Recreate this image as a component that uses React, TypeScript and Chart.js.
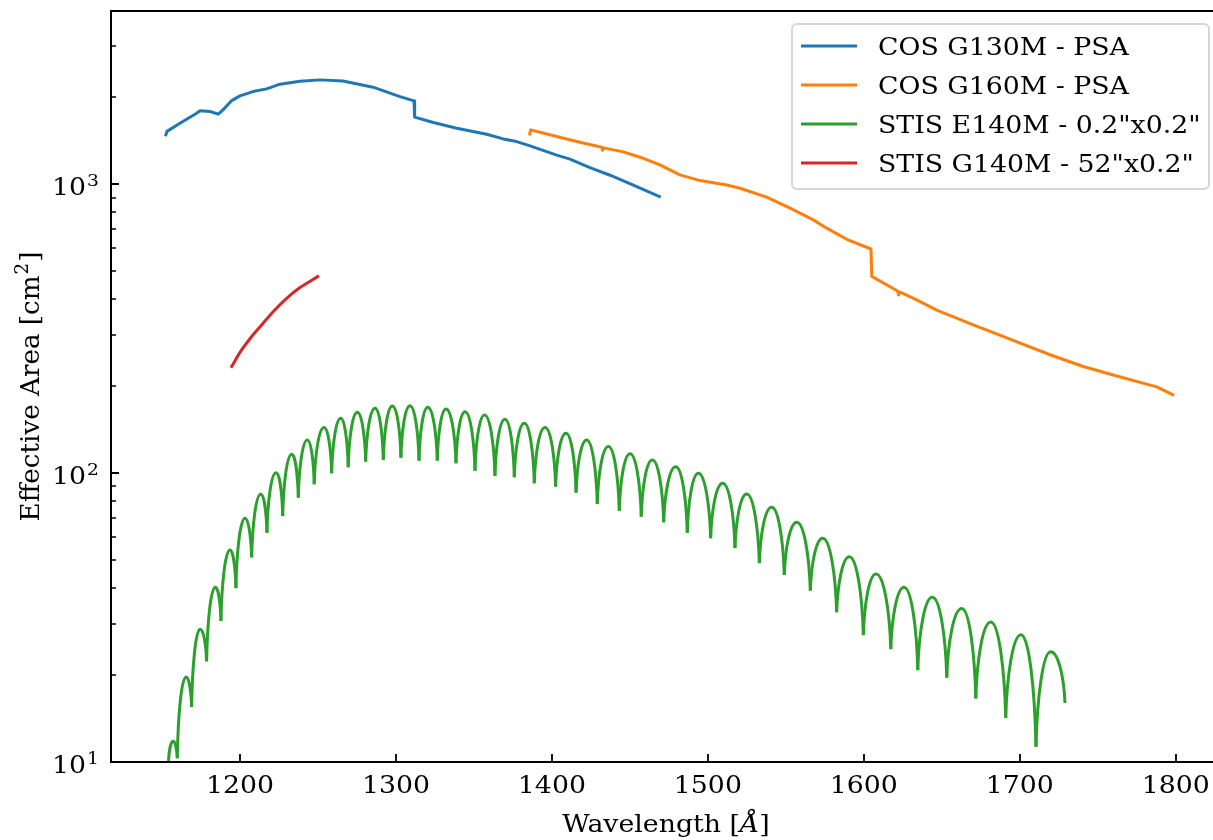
import React, { useEffect, useRef } from "react";
import { Chart, registerables } from "chart.js";

Chart.register(...registerables);

// ---------------- data ----------------
const seriesLabels = [
  "COS G130M - PSA",
  "COS G160M - PSA",
  'STIS E140M - 0.2"x0.2"',
  'STIS G140M - 52"x0.2"',
];
const seriesColors = ["#1f77b4", "#ff7f0e", "#2ca02c", "#d62728"];

const g130mWave = [1152.5, 1153.2, 1161.5, 1172.2, 1174.4, 1180.8, 1186.1, 1189.1, 1194.7, 1200.0, 1208.3, 1217.1, 1225.6, 1238.5, 1251.3, 1266.0, 1285.3, 1302.6, 1311.6, 1312.0, 1324.0, 1339.0, 1358.2, 1368.8, 1377.4, 1386.0, 1403.1, 1411.6, 1424.4, 1437.3, 1452.2, 1468.9];
const g130mArea = [1483, 1525, 1628, 1763, 1796, 1786, 1749, 1810, 1949, 2024, 2094, 2140, 2222, 2275, 2299, 2280, 2169, 2012, 1945, 1708, 1636, 1564, 1491, 1436, 1406, 1358, 1262, 1222, 1142, 1075, 993, 907];

const g160mWave = [1385.8, 1386.4, 1403.1, 1415.9, 1431.9, 1432.4, 1433.1, 1445.8, 1456.5, 1469.3, 1482.1, 1495.0, 1512.1, 1520.6, 1537.7, 1552.7, 1567.6, 1576.2, 1589.0, 1604.6, 1605.1, 1621.6, 1622.3, 1622.9, 1633.9, 1646.7, 1670.2, 1693.7, 1719.4, 1740.7, 1762.2, 1787.8, 1798.1];
const g160mArea = [1494, 1543, 1463, 1406, 1344, 1311, 1337, 1295, 1241, 1167, 1078, 1030, 995, 969, 903, 827, 753, 705, 645, 597, 480, 427, 414, 424, 398, 367, 326, 291, 257, 234, 217, 199, 187];

// E140M echelle orders: cusps (troughs) between orders and blaze peaks
const e140mTroughWave = [1154.0, 1159.8, 1169.0, 1178.6, 1187.8, 1197.4, 1207.5, 1217.3, 1227.4, 1237.4, 1247.6, 1258.8, 1269.4, 1280.6, 1291.9, 1303.2, 1314.8, 1326.5, 1338.5, 1350.7, 1363.5, 1375.9, 1388.7, 1402.4, 1415.5, 1429.1, 1443.2, 1457.3, 1471.7, 1486.8, 1501.8, 1517.4, 1533.0, 1549.0, 1565.7, 1582.6, 1599.7, 1617.3, 1634.6, 1653.2, 1671.8, 1691.0, 1710.4, 1729.0];
const e140mTroughArea = [9.6, 10.3, 15.5, 22.3, 30.8, 40.0, 51.1, 62.2, 71.1, 82.3, 91.5, 99.9, 104.8, 109.6, 111.1, 113.2, 110.5, 110.5, 108.2, 102.0, 97.8, 96.8, 92.3, 89.8, 85.6, 78.2, 74.1, 70.7, 67.6, 62.2, 59.5, 55.0, 48.8, 44.4, 39.2, 33.0, 27.5, 24.6, 20.8, 19.6, 16.6, 14.2, 11.3, 16.0];
const e140mPeakWave = [1157.0, 1165.4, 1174.4, 1184.2, 1193.6, 1203.2, 1213.3, 1223.1, 1233.2, 1243.2, 1253.9, 1264.6, 1275.2, 1286.6, 1297.7, 1309.0, 1320.4, 1332.1, 1344.3, 1356.8, 1369.9, 1382.3, 1395.6, 1409.0, 1422.3, 1436.2, 1450.1, 1464.4, 1479.4, 1493.9, 1509.5, 1524.9, 1540.9, 1557.0, 1573.6, 1590.7, 1607.8, 1625.8, 1643.9, 1662.8, 1681.4, 1700.8, 1719.8];
const e140mPeakArea = [11.8, 19.7, 28.8, 40.3, 54.2, 69.8, 84.5, 100.4, 116.3, 130.3, 143.8, 154.9, 162.5, 167.8, 170.9, 171.3, 169.1, 166.8, 163.3, 159.1, 153.7, 148.9, 143.8, 137.5, 130.3, 123.6, 116.8, 111.1, 105.3, 99.9, 92.3, 84.7, 76.2, 67.6, 59.5, 51.4, 44.8, 40.3, 37.2, 34.0, 30.5, 27.6, 24.1];

const g140mWave = [1194.7, 1200.0, 1206.4, 1213.9, 1221.4, 1229.9, 1238.5, 1249.8];
const g140mArea = [234, 262, 292, 326, 363, 403, 439, 479];

const xTicks = [1200, 1300, 1400, 1500, 1600, 1700, 1800];
const yMajorTicks = [10, 100, 1000];
const yMinorTicks = [20, 30, 40, 50, 60, 70, 80, 90, 200, 300, 400, 500, 600, 700, 800, 900, 2000, 3000];

const xLimits = [1117.3, 1823.9];
const yLimits = [10, 3981];

const xTitle = "Wavelength [";
const xTitleUnit = "Å";
const yTitle = "Effective Area [cm";
const yTitleSup = "2";

// ---------------- styling ----------------
const FONT = "'DejaVu Serif'";
const FS = 23.7;
const FS_SUP = 16.6;
const SX = 1.13; // horizontal stretch of glyphs
const FS_YT = 26.2;

function fontStr(size: number, italic = false) {
  return `${italic ? "italic " : ""}${size}px ${FONT}`;
}

function textW(ctx: CanvasRenderingContext2D, t: string, size: number, italic = false) {
  ctx.font = fontStr(size, italic);
  return ctx.measureText(t).width * SX;
}

function drawT(ctx: CanvasRenderingContext2D, t: string, x: number, y: number, size: number, italic = false) {
  ctx.save();
  ctx.font = fontStr(size, italic);
  ctx.textAlign = "left";
  ctx.textBaseline = "alphabetic";
  ctx.translate(x, y);
  ctx.scale(SX, 1);
  ctx.fillText(t, 0, 0);
  ctx.restore();
}

// Shapes each echelle-order arc: sharp cusp at the order edges, rounded blaze top.
const arcShapePlugin = {
  id: "arcShape",
  beforeDatasetDraw(chart: any, args: any) {
    const ds = chart.data.datasets[args.index];
    if (!ds.echelleArc) return;
    const meta = args.meta;
    meta.dataset.updateControlPoints(chart.chartArea, "x");
    const [a, b, c] = meta.data as any[];
    if (!a || !b || !c) return;
    const d1 = b.x - a.x;
    a.cp2x = a.x + 0.08 * d1;
    a.cp2y = a.y + 0.52 * (b.y - a.y);
    b.cp1x = b.x - 0.52 * d1;
    b.cp1y = b.y;
    const d2 = c.x - b.x;
    b.cp2x = b.x + 0.52 * d2;
    b.cp2y = b.y;
    c.cp1x = c.x - 0.08 * d2;
    c.cp1y = c.y + 0.52 * (b.y - c.y);
  },
};

const decorPlugin = {
  id: "decor",
  afterDraw(chart: any) {
    const { ctx, chartArea: a, scales } = chart;
    const xs = scales.x;
    const ys = scales.y;
    ctx.save();
    ctx.strokeStyle = "#000";
    ctx.fillStyle = "#000";
    ctx.lineCap = "butt";

    // spines
    ctx.lineWidth = 2;
    ctx.beginPath();
    ctx.moveTo(a.left, a.top);
    ctx.lineTo(a.right, a.top);
    ctx.moveTo(a.left, a.top - 1);
    ctx.lineTo(a.left, a.bottom + 1);
    ctx.moveTo(a.left - 1, a.bottom);
    ctx.lineTo(a.right, a.bottom);
    ctx.stroke();

    // x ticks (inward)
    ctx.lineWidth = 1.8;
    ctx.beginPath();
    for (const v of xTicks) {
      const px = Math.round(xs.getPixelForValue(v));
      ctx.moveTo(px, a.bottom);
      ctx.lineTo(px, a.bottom - 8);
    }
    ctx.stroke();
    // y major ticks
    ctx.beginPath();
    for (const v of yMajorTicks) {
      const py = Math.round(ys.getPixelForValue(v));
      ctx.moveTo(a.left, py);
      ctx.lineTo(a.left + 8, py);
    }
    ctx.stroke();
    // y minor ticks
    ctx.lineWidth = 1.4;
    ctx.beginPath();
    for (const v of yMinorTicks) {
      const py = Math.round(ys.getPixelForValue(v));
      ctx.moveTo(a.left, py);
      ctx.lineTo(a.left + 5, py);
    }
    ctx.stroke();

    // x tick labels
    for (const v of xTicks) {
      const px = xs.getPixelForValue(v);
      const w = textW(ctx, String(v), FS);
      drawT(ctx, String(v), px - w / 2, a.bottom + 31, FS);
    }

    // y tick labels 10^n
    for (const v of yMajorTicks) {
      const py = ys.getPixelForValue(v);
      const exp = String(Math.round(Math.log10(v)));
      const wBase = textW(ctx, "10", FS);
      const wExp = textW(ctx, exp, FS_SUP);
      const right = a.left - 12;
      const x0 = right - wExp - wBase - 1;
      drawT(ctx, "10", x0, py + 11, FS);
      drawT(ctx, exp, x0 + wBase + 1, py + 1.5, FS_SUP);
    }

    // x title
    {
      const w1 = textW(ctx, xTitle, FS);
      const w2 = textW(ctx, xTitleUnit, FS, true);
      const w3 = textW(ctx, "]", FS);
      const cx = (a.left + a.right) / 2 + 4;
      let x = cx - (w1 + w2 + w3) / 2;
      const y = 832;
      drawT(ctx, xTitle, x, y, FS);
      x += w1;
      drawT(ctx, xTitleUnit, x, y, FS, true);
      x += w2;
      drawT(ctx, "]", x, y, FS);
    }

    // y title (rotated)
    {
      ctx.save();
      ctx.translate(39, (a.top + a.bottom) / 2);
      ctx.rotate(-Math.PI / 2);
      ctx.fillStyle = "#000";
      ctx.textAlign = "left";
      ctx.textBaseline = "alphabetic";
      ctx.font = fontStr(FS_YT);
      const w1 = ctx.measureText(yTitle).width;
      ctx.font = fontStr((FS_SUP * FS_YT) / FS);
      const w2 = ctx.measureText(yTitleSup).width;
      ctx.font = fontStr(FS_YT);
      const w3 = ctx.measureText("]").width;
      let x = -(w1 + w2 + w3 + 2) / 2;
      ctx.fillText(yTitle, x, 0);
      x += w1 + 1;
      ctx.font = fontStr((FS_SUP * FS_YT) / FS);
      ctx.fillText(yTitleSup, x, -11);
      x += w2 + 1;
      ctx.font = fontStr(FS_YT);
      ctx.fillText("]", x, 0);
      ctx.restore();
    }

    // legend
    {
      const bx = 792, by = 24, bw = 417, bh = 165, r = 5;
      ctx.beginPath();
      ctx.moveTo(bx + r, by);
      ctx.lineTo(bx + bw - r, by);
      ctx.arcTo(bx + bw, by, bx + bw, by + r, r);
      ctx.lineTo(bx + bw, by + bh - r);
      ctx.arcTo(bx + bw, by + bh, bx + bw - r, by + bh, r);
      ctx.lineTo(bx + r, by + bh);
      ctx.arcTo(bx, by + bh, bx, by + bh - r, r);
      ctx.lineTo(bx, by + r);
      ctx.arcTo(bx, by, bx + r, by, r);
      ctx.closePath();
      ctx.fillStyle = "rgba(255,255,255,0.8)";
      ctx.fill();
      ctx.strokeStyle = "#d6d6d6";
      ctx.lineWidth = 2;
      ctx.stroke();

      for (let i = 0; i < seriesLabels.length; i++) {
        const ly = 46 + i * 39;
        ctx.strokeStyle = seriesColors[i];
        ctx.lineWidth = 3;
        ctx.beginPath();
        ctx.moveTo(801, ly);
        ctx.lineTo(857, ly);
        ctx.stroke();
        ctx.fillStyle = "#000";
        drawT(ctx, seriesLabels[i], 878, ly + 9, FS);
      }
    }
    ctx.restore();
  },
};

function pts(w: number[], v: number[]) {
  return w.map((x, i) => ({ x, y: v[i] }));
}

export default function App() {
  const ref = useRef<HTMLCanvasElement>(null);
  useEffect(() => {
    document.body.style.margin = "0";
    const canvas = ref.current!;
    const base = {
      borderWidth: 3,
      pointRadius: 0,
      fill: false,
      borderCapStyle: "square" as const,
      borderJoinStyle: "round" as const,
    };
    const datasets: any[] = [];
    datasets.push({ ...base, label: seriesLabels[0], data: pts(g130mWave, g130mArea), borderColor: seriesColors[0], tension: 0 });
    datasets.push({ ...base, label: seriesLabels[1], data: pts(g160mWave, g160mArea), borderColor: seriesColors[1], tension: 0 });
    for (let i = 0; i < e140mPeakWave.length; i++) {
      datasets.push({
        ...base,
        label: seriesLabels[2],
        echelleArc: true,
        data: [
          { x: e140mTroughWave[i], y: e140mTroughArea[i] },
          { x: e140mPeakWave[i], y: e140mPeakArea[i] },
          { x: e140mTroughWave[i + 1], y: e140mTroughArea[i + 1] },
        ],
        borderColor: seriesColors[2],
        borderCapStyle: "butt",
        tension: 0.4,
      });
    }
    datasets.push({ ...base, label: seriesLabels[3], data: pts(g140mWave, g140mArea), borderColor: seriesColors[3], cubicInterpolationMode: "monotone" });

    const chart = new Chart(canvas, {
      type: "line",
      data: { datasets },
      options: {
        responsive: false,
        animation: false,
        devicePixelRatio: 1,
        layout: { padding: { top: 11, left: 0, right: 0, bottom: 0 } },
        plugins: { legend: { display: false }, tooltip: { enabled: false } },
        elements: { line: { capBezierPoints: false } },
        scales: {
          x: {
            type: "linear",
            min: xLimits[0],
            max: xLimits[1],
            grid: { display: false },
            border: { display: false },
            ticks: { display: false },
            afterFit: (s: any) => {
              s.height = 78;
            },
          },
          y: {
            type: "logarithmic",
            min: yLimits[0],
            max: yLimits[1],
            grid: { display: false },
            border: { display: false },
            ticks: { display: false },
            afterFit: (s: any) => {
              s.width = 111;
            },
          },
        },
      } as any,
      plugins: [arcShapePlugin, decorPlugin],
    });
    return () => chart.destroy();
  }, []);
  return (
    <div style={{ position: "absolute", left: 0, top: 0, width: 1213, height: 840, background: "#fff" }}>
      <canvas ref={ref} width={1213} height={840} style={{ display: "block" }} />
    </div>
  );
}
